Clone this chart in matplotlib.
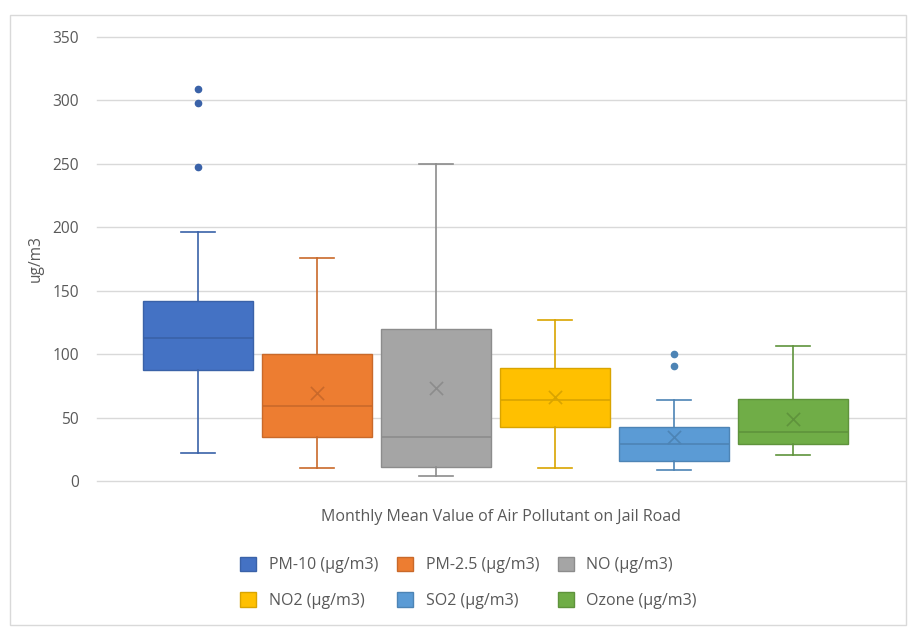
import matplotlib
matplotlib.use("Agg")
import matplotlib.pyplot as plt
from matplotlib.patches import Patch, Rectangle
import numpy as np

plt.rcParams['font.family'] = ['Open Sans', 'DejaVu Sans']

series = ["PM-10 (µg/m3)", "PM-2.5 (µg/m3)", "NO (µg/m3)",
          "NO2 (µg/m3)", "SO2 (µg/m3)", "Ozone (µg/m3)"]
whisker_low = [22, 10, 4, 10, 8.5, 20.5]
q1 = [87.5, 35, 11, 42.3, 15.8, 29]
median = [112.5, 59, 35, 63.8, 29.2, 39]
q3 = [141.5, 100.5, 120, 89, 42.3, 64.6]
whisker_high = [196.5, 176, 250, 127, 63.6, 106.7]
means = [np.nan, 69, 73, 66, 35, 48.6]
outliers = [[309, 298, 247.5], [], [], [], [99.8, 91], []]
colors = ["#4472C4", "#ED7D31", "#A5A5A5", "#FFC000", "#5B9BD5", "#70AD47"]
edge_colors = ["#3A62A8", "#C9692A", "#8C8C8C", "#D9A400", "#4D84B5", "#5F933C"]
yticks = [0, 50, 100, 150, 200, 250, 300, 350]

fig = plt.figure(figsize=(9.1, 6.3), dpi=100)
fig.patches.append(Rectangle((0.011, 0.008), 0.985, 0.968, transform=fig.transFigure,
                             fill=False, edgecolor="#D9D9D9", linewidth=1.0))
ax = fig.add_axes([0.1066, 0.2365, 0.8879, 0.7048])

positions = np.arange(len(series))
for i in range(len(series)):
    stats = [dict(whislo=whisker_low[i], q1=q1[i], med=median[i], q3=q3[i],
                  whishi=whisker_high[i], fliers=outliers[i])]
    ax.bxp(stats, positions=[positions[i]], widths=0.92, patch_artist=True,
           showfliers=True,
           boxprops=dict(facecolor=colors[i], edgecolor=edge_colors[i], linewidth=1.0),
           medianprops=dict(color=edge_colors[i], linewidth=1.2),
           whiskerprops=dict(color=edge_colors[i], linewidth=1.2),
           capprops=dict(color=edge_colors[i], linewidth=1.2),
           capwidths=0.28,
           flierprops=dict(marker='o', markerfacecolor=edge_colors[i],
                           markeredgecolor=edge_colors[i], markersize=4.5))
    if not np.isnan(means[i]):
        ax.scatter([positions[i]], [means[i]], marker='x', s=90,
                   color=edge_colors[i], linewidths=1.2, zorder=5)

ax.set_xlim(-0.85, 5.94)
ax.set_ylim(0, 350)
ax.set_yticks(yticks)
ax.set_xticks([])
ax.yaxis.grid(True, color="#D9D9D9", linewidth=1.0)
for gl in ax.yaxis.get_gridlines():
    gl.set_clip_on(False)
ax.set_axisbelow(True)
for s in ax.spines.values():
    s.set_visible(False)
ax.tick_params(axis='y', length=0, labelsize=11.2, labelcolor="#595959", pad=13)
ax.set_ylabel("ug/m3", fontsize=11.2, color="#595959", labelpad=6)
ax.set_xlabel("Monthly Mean Value of Air Pollutant on Jail Road", fontsize=11.5,
              color="#595959", labelpad=20)

order = [0, 3, 1, 4, 2, 5]
handles = [Patch(facecolor=colors[k], edgecolor=edge_colors[k], label=series[k]) for k in order]
leg = fig.legend(handles=handles, ncol=3, loc='center', bbox_to_anchor=(0.515, 0.075),
                 frameon=False, fontsize=11.5, handlelength=1.0, handleheight=1.0,
                 columnspacing=1.15, labelspacing=1.2, handletextpad=0.8)
for t in leg.get_texts():
    t.set_color("#595959")

fig.savefig("out.png", dpi=100)
